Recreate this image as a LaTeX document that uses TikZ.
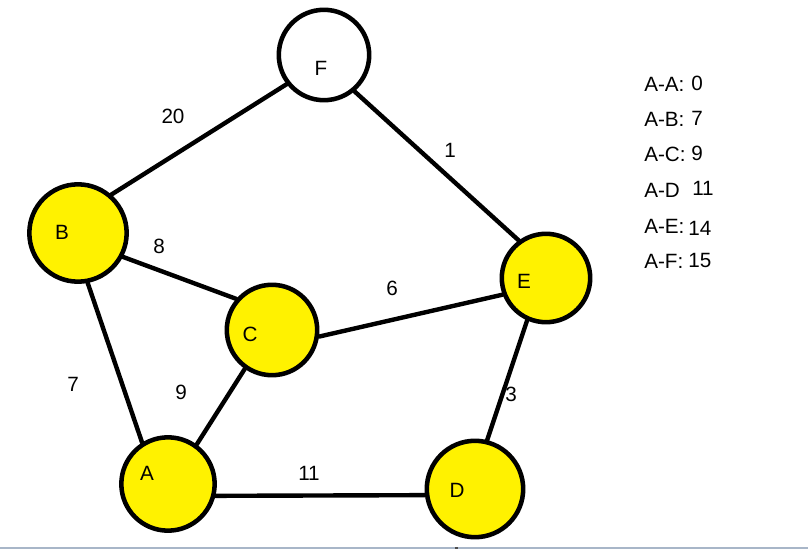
\documentclass[tikz,border=0pt]{standalone}
\usepackage{fontspec}
\setmainfont{Liberation Sans}
\definecolor{nodeyellow}{RGB}{255,242,0}
\definecolor{barblue}{RGB}{168,182,200}
\begin{document}
\begin{tikzpicture}[x=0.75pt,y=-0.75pt,
  vertex/.style={circle,draw=black,line width=3.4pt,fill=nodeyellow,inner sep=0pt,minimum size=#1},
  plainvertex/.style={circle,draw=black,line width=3.4pt,fill=white,inner sep=0pt,minimum size=#1},
  txt/.style={inner sep=0pt,font=\fontsize{15.5}{18}\selectfont},
  edge/.style={line width=3.3pt,line cap=round}]
\useasboundingbox (0,0) rectangle (808,549);
\fill[white] (0,0) rectangle (808,549);
% bottom bar
\fill[barblue] (0,546.5) rectangle (808,549);
\fill[black!70] (455,547) rectangle (458,549);
% vertices
\node[plainvertex=67.8pt] (F) at (324,55) {};
\node[vertex=73pt] (B) at (78,233) {};
\node[vertex=67.8pt] (C) at (272,330) {};
\node[vertex=66.3pt] (E) at (546,278) {};
\node[vertex=70pt] (A) at (168,484) {};
\node[vertex=72.3pt] (D) at (475,489) {};
% edges
\draw[edge] (B.49) -- (F.218);
\draw[edge] (F.-50) -- (E.126);
\draw[edge] (B.-28) -- (C.139);
\draw[edge] (C.-8) -- (E.201);
\draw[edge] (B.-79) -- (A.122);
\draw[edge] (C.235) -- (A.54);
\draw[edge] (E.246) -- (D.76);
\draw[edge] (A.-14) -- (D.187);
% vertex letters
\node[txt] (Fl) at (321,68) {F};
\node[txt] (Bl) at (62,232) {B};
\node[txt] (Cl) at (250,334) {C};
\node[txt] (El) at (524,281) {E};
\node[txt] (Al) at (147,473) {A};
\node[txt] (Dl) at (457,490) {D};
% edge weights
\node[txt] (wBF) at (173,116) {20};
\node[txt] (wFE) at (450,150) {1};
\node[txt] (wBC) at (159,246) {8};
\node[txt] (wCE) at (392,288) {6};
\node[txt] (wBA) at (73,384) {7};
\node[txt] (wCA) at (181,392) {9};
\node[txt] (wED) at (511,394) {3};
\node[txt] (wAD) at (309,473) {11};
% legend
\node[txt,anchor=west] (k1) at (644,84) {A-A:};
\node[txt,anchor=west] (v1) at (691,83) {0};
\node[txt,anchor=west] (k2) at (644,119) {A-B:};
\node[txt,anchor=west] (v2) at (691,118) {7};
\node[txt,anchor=west] (k3) at (644,154) {A-C:};
\node[txt,anchor=west] (v3) at (691,153) {9};
\node[txt,anchor=west] (k4) at (644,190) {A-D};
\node[txt,anchor=west] (v4) at (692,188) {11};
\node[txt,anchor=west] (k5) at (644,226) {A-E:};
\node[txt,anchor=west] (v5) at (688,228) {14};
\node[txt,anchor=west] (k6) at (644,261) {A-F:};
\node[txt,anchor=west] (v6) at (688,260) {15};
\end{tikzpicture}
\end{document}
